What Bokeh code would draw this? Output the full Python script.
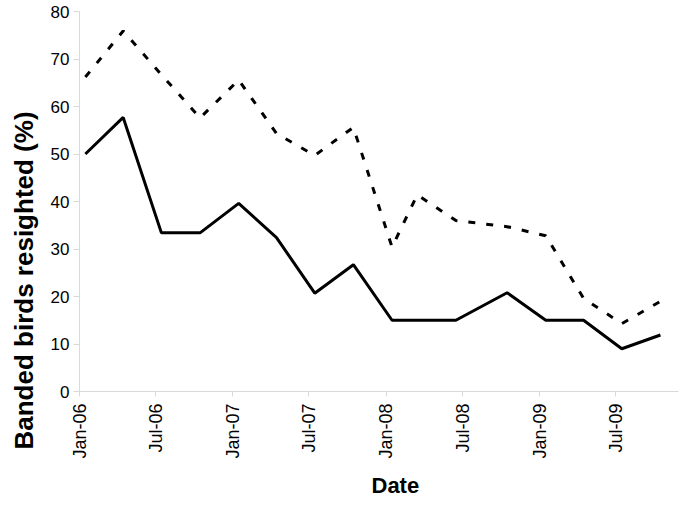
import math
from datetime import datetime
from bokeh.plotting import figure
from bokeh.models import Range1d, FixedTicker, DatetimeTickFormatter, Title
from bokeh.embed import file_html
from bokeh.resources import INLINE

# ---- data -------------------------------------------------------------
solid_dates = ["2006-01-15", "2006-04-15", "2006-07-15", "2006-10-15",
               "2007-01-15", "2007-04-15", "2007-07-15", "2007-10-15",
               "2008-01-15", "2008-06-15", "2008-10-15",
               "2009-01-15", "2009-04-15", "2009-07-15", "2009-10-15"]
solid_values = [50.0, 57.7, 33.4, 33.4, 39.6, 32.4, 20.7, 26.7,
                15.0, 15.0, 20.8, 15.0, 15.0, 9.0, 11.9]

dashed_dates = ["2006-01-15", "2006-04-15", "2006-07-15", "2006-10-15",
                "2007-01-15", "2007-04-15", "2007-07-15", "2007-10-15",
                "2008-01-15", "2008-03-15", "2008-06-15", "2008-10-15",
                "2009-01-15", "2009-04-15", "2009-07-15", "2009-10-15"]
dashed_values = [66.2, 75.9, 66.7, 57.6, 65.6, 54.3, 49.7, 55.6,
                 30.4, 41.4, 36.0, 34.7, 32.8, 19.6, 14.3, 19.0]

tick_dates = ["2006-01-01", "2006-07-01", "2007-01-01", "2007-07-01",
              "2008-01-01", "2008-07-01", "2009-01-01", "2009-07-01"]
y_ticks = [0, 10, 20, 30, 40, 50, 60, 70, 80]

x_title = "Date"
y_title = "Banded birds resighted (%)"

# ---- helpers ----------------------------------------------------------
def to_dt(s):
    return datetime.strptime(s, "%Y-%m-%d")

def to_ms(s):
    return (to_dt(s) - datetime(1970, 1, 1)).total_seconds() * 1000.0

FONT = "Liberation Sans"
AXIS_GREY = "#d9d9d9"

p = figure(width=679, height=507, x_axis_type="datetime",
           output_backend="svg", toolbar_location=None,
           x_range=Range1d(to_dt("2006-01-01"), to_dt("2009-11-27")),
           y_range=Range1d(0, 80),
           min_border_left=79, min_border_right=1,
           min_border_top=11, min_border_bottom=115)
p.outline_line_color = None
p.xgrid.visible = False
p.ygrid.visible = False
p.background_fill_color = "white"
p.border_fill_color = "white"

p.line([to_dt(d) for d in dashed_dates], dashed_values,
       line_color="black", line_width=3, line_dash="7 11")
p.line([to_dt(d) for d in solid_dates], solid_values,
       line_color="black", line_width=3)

# x axis
xa = p.xaxis[0]
xa.ticker = FixedTicker(ticks=[to_ms(d) for d in tick_dates])
xa.formatter = DatetimeTickFormatter(days="%b-%y", months="%b-%y",
                                     years="%b-%y")
xa.major_label_orientation = math.pi / 2
xa.major_label_text_font = FONT
xa.major_label_text_font_size = "18px"
xa.major_label_text_color = "black"
xa.major_label_standoff = 7
xa.axis_line_color = AXIS_GREY
xa.major_tick_line_color = AXIS_GREY
xa.major_tick_in = 0
xa.major_tick_out = 5
xa.minor_tick_line_color = None

# y axis
ya = p.yaxis[0]
ya.ticker = FixedTicker(ticks=y_ticks)
ya.major_label_text_font = FONT
ya.major_label_text_font_size = "17px"
ya.major_label_text_color = "black"
ya.major_label_standoff = 4
ya.axis_line_color = AXIS_GREY
ya.major_tick_line_color = AXIS_GREY
ya.major_tick_in = 0
ya.major_tick_out = 6
ya.minor_tick_line_color = None

# axis titles, shifted along the axis like the original
p.add_layout(Title(text=x_title, text_font=FONT, text_font_size="22px",
                   text_font_style="bold", text_color="black",
                   align="left", offset=292, standoff=19), "below")
p.add_layout(Title(text=y_title, text_font=FONT, text_font_size="26px",
                   text_font_style="bold", text_color="black",
                   align="left", offset=-58, standoff=14,
                   vertical_align="top"), "left")

open("out.html", "w").write(file_html(p, INLINE))
